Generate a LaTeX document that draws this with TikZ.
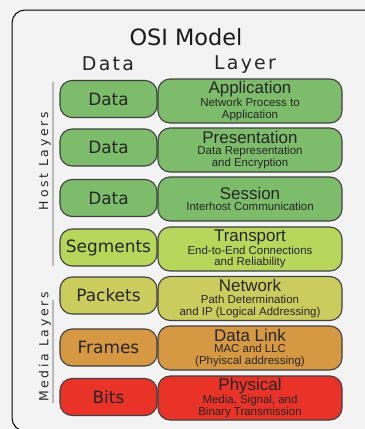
\documentclass[tikz,border=0pt]{standalone}
\usepackage{fontspec}
\setmainfont{DejaVu Sans}
\newfontfamily\subfont{Liberation Sans}
\newfontfamily\widefont[LetterSpace=12]{DejaVu Sans}
\newfontfamily\sidefont[LetterSpace=22]{DejaVu Sans}
\definecolor{paper}{RGB}{243,243,243}
\definecolor{hostgreen}{RGB}{124,188,106}
\definecolor{transport}{RGB}{182,214,92}
\definecolor{network}{RGB}{202,205,94}
\definecolor{datalink}{RGB}{214,152,66}
\definecolor{physical}{RGB}{233,50,40}
\newcommand{\layername}[1]{{\fontsize{17}{17}\selectfont #1}}

\begin{document}
\begin{tikzpicture}[x=1bp,y=-1bp,
    databox/.style={draw=black!75, line width=1.1bp, rounded corners=12bp,
      minimum width=97bp, minimum height=37bp, inner sep=0pt,
      font=\fontsize{17}{17}\selectfont, text=black!85},
    layerbox/.style={draw=black!75, line width=1.1bp, rounded corners=12bp,
      minimum width=184bp, minimum height=44bp, inner sep=0pt, align=center,
      font=\subfont\fontsize{11.5}{11.6}\selectfont, text=black!85}]
    \useasboundingbox (0,0) rectangle (365,429);
    \fill[paper] (0,0) rectangle (365,429);
    \clip (0,0) rectangle (365,429);

    % Draw the frame
    \draw[line width=1bp, rounded corners=13bp] (390,10) -- (12,10) -- (12,431) -- (60,431);

    % Titles
    \node[anchor=base, font=\fontsize{22.5}{22.5}\selectfont, text=black!90] (title) at (186,45) {OSI Model};
    \node[anchor=base, font=\widefont\fontsize{19}{19}\selectfont, text=black!85] (datahead) at (108,70) {Data};
    \node[anchor=base, font=\widefont\fontsize{19}{19}\selectfont, text=black!85] (layerhead) at (245,69) {Layer};

    % Host layers
    \node[databox, fill=hostgreen] (appdata) at (108.5,99) {Data};
    \node[layerbox, fill=hostgreen] (app) at (250,101) {\layername{Application}\\Network Process to\\Application};
    \node[databox, fill=hostgreen] (presdata) at (108.5,147.5) {Data};
    \node[layerbox, fill=hostgreen] (pres) at (250,150) {\layername{Presentation}\\Data Representation\\and Encryption};
    \node[databox, fill=hostgreen] (sessdata) at (108.5,198) {Data};
    \node[layerbox, fill=hostgreen] (sess) at (250,199) {\layername{Session}\\Interhost Communication};
    \node[databox, fill=transport] (transdata) at (108.5,247.5) {Segments};
    \node[layerbox, fill=transport] (trans) at (250,249) {\layername{Transport}\\End-to-End Connections\\and Reliability};

    % Media layers
    \node[databox, fill=network] (netdata) at (108.5,295.5) {Packets};
    \node[layerbox, fill=network] (net) at (250,298.5) {\layername{Network}\\Path Determination\\and IP (Logical Addressing)};
    \node[databox, fill=datalink] (linkdata) at (108.5,347.5) {Frames};
    \node[layerbox, fill=datalink] (link) at (250,348) {\layername{Data Link}\\MAC and LLC\\(Phyiscal addressing)};
    \node[databox, fill=physical] (physdata) at (108.5,397) {Bits};
    \node[layerbox, fill=physical] (phys) at (250,398) {\layername{Physical}\\Media, Signal, and\\Binary Transmission};

    % Side labels
    \draw[line width=2.5bp, gray!55] (53,82) -- (53,266);
    \draw[line width=2.5bp, gray!55] (53,300) -- (53,403);
    \node[rotate=90, font=\sidefont\fontsize{12.5}{12.5}\selectfont, text=black!85] (hostlabel) at (45,161) {Host Layers};
    \node[rotate=90, font=\sidefont\fontsize{12.5}{12.5}\selectfont, text=black!85] (medialabel) at (45,347) {Media Layers};
\end{tikzpicture}
\end{document}
